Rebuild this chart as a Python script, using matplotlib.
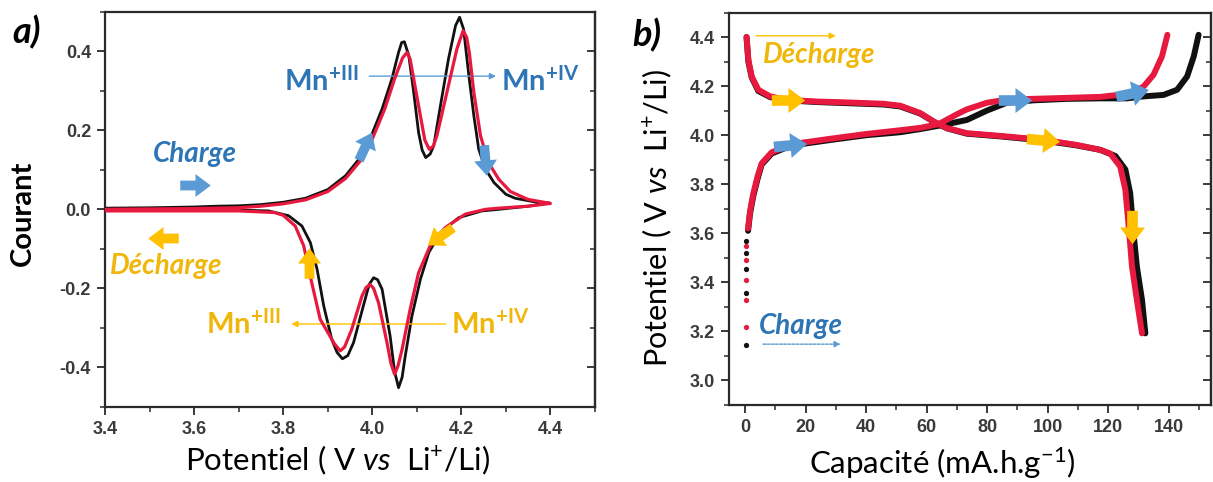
import numpy as np
import matplotlib
matplotlib.use("Agg")
import matplotlib.pyplot as plt
from matplotlib.path import Path
from matplotlib.markers import MarkerStyle
from matplotlib.transforms import Affine2D

# ---------------- data : a) cyclic voltammetry ----------------
cv_black_anodic_x = [3.40, 3.50, 3.60, 3.65, 3.70, 3.75, 3.80, 3.85, 3.90, 3.94, 3.97, 3.995,
                     4.022, 4.044, 4.059, 4.066, 4.072, 4.082, 4.093, 4.104, 4.112, 4.12, 4.13,
                     4.138, 4.153, 4.171, 4.187, 4.196, 4.205, 4.216, 4.228, 4.239, 4.254, 4.273,
                     4.30, 4.321, 4.364, 4.398]
cv_black_anodic_y = [0.003, 0.004, 0.006, 0.008, 0.009, 0.012, 0.018, 0.028, 0.050, 0.085, 0.127, 0.178,
                     0.254, 0.330, 0.397, 0.422, 0.424, 0.389, 0.296, 0.194, 0.150, 0.131, 0.140,
                     0.161, 0.262, 0.380, 0.465, 0.486, 0.456, 0.346, 0.237, 0.152, 0.102, 0.068,
                     0.038, 0.028, 0.019, 0.016]
cv_black_cathodic_x = [4.398, 4.35, 4.30, 4.284, 4.246, 4.194, 4.153, 4.127, 4.108, 4.089, 4.074,
                       4.067, 4.059, 4.050, 4.040, 4.022, 4.012, 4.003, 3.993, 3.98, 3.958, 3.945,
                       3.933, 3.921, 3.909, 3.891, 3.876, 3.861, 3.842, 3.812, 3.767, 3.70, 3.60, 3.40]
cv_black_cathodic_y = [0.016, 0.008, 0.002, 0.000, -0.004, -0.021, -0.059, -0.109, -0.177, -0.270, -0.371,
                       -0.425, -0.451, -0.410, -0.320, -0.202, -0.178, -0.173, -0.190, -0.244, -0.337, -0.370,
                       -0.378, -0.362, -0.329, -0.244, -0.151, -0.084, -0.042, -0.016, -0.004, -0.002, -0.002, -0.002]

cv_red_anodic_x = [3.40, 3.60, 3.70, 3.75, 3.80, 3.85, 3.90, 3.94, 3.975, 4.00, 4.028, 4.05,
                   4.068, 4.078, 4.085, 4.093, 4.108, 4.118, 4.128, 4.137, 4.145, 4.171, 4.19,
                   4.204, 4.212, 4.218, 4.228, 4.243, 4.261, 4.284, 4.31, 4.35, 4.40]
cv_red_anodic_y = [0.000, 0.002, 0.004, 0.008, 0.014, 0.024, 0.045, 0.078, 0.125, 0.178, 0.254, 0.330,
                   0.383, 0.397, 0.380, 0.330, 0.237, 0.175, 0.152, 0.160, 0.186, 0.313, 0.406,
                   0.452, 0.435, 0.395, 0.296, 0.186, 0.118, 0.076, 0.045, 0.025, 0.015]
cv_red_cathodic_x = [4.40, 4.35, 4.284, 4.254, 4.209, 4.164, 4.13, 4.104, 4.085, 4.067, 4.058,
                     4.050, 4.042, 4.033, 4.014, 4.003, 3.995, 3.986, 3.977, 3.954, 3.938, 3.928,
                     3.915, 3.883, 3.864, 3.846, 3.827, 3.80, 3.78, 3.70, 3.40]
cv_red_cathodic_y = [0.015, 0.008, 0.003, 0.000, -0.012, -0.046, -0.092, -0.160, -0.253, -0.354, -0.395,
                     -0.417, -0.390, -0.337, -0.236, -0.200, -0.190, -0.198, -0.219, -0.303, -0.348, -0.358,
                     -0.340, -0.278, -0.185, -0.092, -0.042, -0.015, -0.008, -0.004, -0.004]

cv_xticks = [3.4, 3.6, 3.8, 4.0, 4.2, 4.4]
cv_xticklabels = ["3.4", "3.6", "3.8", "4.0", "4.2", "4.4"]
cv_yticks = [-0.4, -0.2, 0.0, 0.2, 0.4]
cv_yticklabels = ["-0.4", "-0.2", "0.0", "0.2", "0.4"]

# ---------------- data : b) galvanostatic curves ----------------
charge_black_x = [1.0, 1.65, 2.7, 4.1, 5.5, 8.8, 13.8, 18.2, 29.2, 40.2, 51.3, 58.0, 65.6, 73.3,
                  79.9, 86.5, 95.3, 106.4, 117.4, 126.2, 131.7, 138.3, 142.8, 146.1, 148.3, 149.9]
charge_black_y = [3.61, 3.68, 3.75, 3.82, 3.88, 3.925, 3.95, 3.963, 3.982, 4.000, 4.012, 4.025, 4.042, 4.062,
                  4.100, 4.132, 4.142, 4.148, 4.150, 4.150, 4.158, 4.164, 4.185, 4.239, 4.321, 4.409]
charge_red_x = [1.0, 1.65, 2.7, 4.1, 5.5, 8.8, 13.8, 18.2, 29.2, 40.2, 51.3, 58.0, 64.0, 70.0, 73.3,
                79.9, 86.5, 95.3, 106.4, 117.4, 124.0, 127.3, 131.7, 135.0, 137.8, 139.6]
charge_red_y = [3.62, 3.69, 3.76, 3.83, 3.885, 3.93, 3.955, 3.968, 3.987, 4.005, 4.020, 4.030, 4.045, 4.085, 4.105,
                4.132, 4.145, 4.148, 4.152, 4.156, 4.165, 4.171, 4.198, 4.246, 4.321, 4.409]
discharge_black_x = [0.5, 1.1, 2.2, 4.4, 8.3, 13.8, 23.7, 34.7, 45.7, 51.3, 57.9, 62.3, 66.7, 73.3,
                     84.3, 98.6, 109.7, 117.4, 122.4, 125.7, 127.3, 128.4, 129.5, 131.2, 132.3]
discharge_black_y = [4.40, 4.30, 4.235, 4.18, 4.155, 4.142, 4.135, 4.130, 4.125, 4.117, 4.088, 4.055, 4.028, 4.006,
                     3.995, 3.978, 3.958, 3.940, 3.915, 3.860, 3.763, 3.600, 3.464, 3.328, 3.192]
discharge_red_x = [0.5, 1.1, 2.2, 4.4, 8.3, 13.8, 23.7, 34.7, 45.7, 51.3, 53.5, 57.9, 62.3, 66.7, 73.3,
                   84.3, 98.6, 109.7, 117.4, 120.7, 124.0, 125.7, 126.8, 127.9, 129.5, 131.2]
discharge_red_y = [4.40, 4.307, 4.239, 4.185, 4.158, 4.144, 4.137, 4.133, 4.128, 4.120, 4.110, 4.090, 4.056, 4.029, 4.008,
                   3.997, 3.981, 3.960, 3.940, 3.925, 3.872, 3.777, 3.627, 3.464, 3.328, 3.192]
start_dots_black_y = [3.144, 3.355, 3.455, 3.52, 3.57]
start_dots_red_y = [3.22, 3.33, 3.41, 3.49, 3.55]

gc_xticks = [0, 20, 40, 60, 80, 100, 120, 140]
gc_xticklabels = ["0", "20", "40", "60", "80", "100", "120", "140"]
gc_yticks = [3.0, 3.2, 3.4, 3.6, 3.8, 4.0, 4.2, 4.4]
gc_yticklabels = ["3.0", "3.2", "3.4", "3.6", "3.8", "4.0", "4.2", "4.4"]

# ---------------- style ----------------
plt.rcParams["mathtext.fontset"] = "custom"
plt.rcParams["mathtext.rm"] = "Lato"
plt.rcParams["mathtext.it"] = "Lato:italic"
plt.rcParams["mathtext.bf"] = "Lato:bold"
plt.rcParams["font.family"] = ["Lato", "DejaVu Sans"]

RED = "#E8193F"
BLACK = "#111111"
BLUE_TXT = "#2E75B6"
BLUE_ARR = "#5B9BD5"
YEL_TXT = "#F0B70A"
YEL_ARR = "#FFC000"
SPINE = "#2a2a2a"

W, H = 1213, 482
fig = plt.figure(figsize=(W / 100, H / 100), dpi=100)
axA = fig.add_axes([105 / W, 1 - 407 / H, 490 / W, (407 - 11.7) / H])
axB = fig.add_axes([729 / W, 1 - 405 / H, (1211 - 729) / W, (405 - 12.5) / H])

ARROW_PATH = Path([(-1, -0.32), (0.0, -0.32), (0.0, -0.75), (1, 0), (0.0, 0.75),
                   (0.0, 0.32), (-1, 0.32), (-1, -0.32)],
                  [Path.MOVETO] + [Path.LINETO] * 6 + [Path.CLOSEPOLY])


def block_arrow(ax, x, y, angle, color, size=18):
    m = MarkerStyle(ARROW_PATH, transform=Affine2D().rotate_deg(angle))
    ax.plot([x], [y], marker=m, ms=size, color=color, mec="none", ls="none", zorder=6)


def style_axes(ax, xt, xtl, yt, ytl, xminor, yminor):
    ax.set_xticks(xt)
    ax.set_xticklabels(xtl)
    ax.set_yticks(yt)
    ax.set_yticklabels(ytl)
    ax.set_xticks(xminor, minor=True)
    ax.set_yticks(yminor, minor=True)
    for s in ax.spines.values():
        s.set_linewidth(1.6)
        s.set_color(SPINE)
    ax.tick_params(which="major", direction="out", length=6, width=1.3, color=SPINE, pad=4,
                   labelsize=13, labelcolor="#3a3a3a")
    ax.tick_params(which="minor", direction="out", length=3.5, width=1.1, color=SPINE)
    for lab in ax.get_xticklabels() + ax.get_yticklabels():
        lab.set_fontfamily("Liberation Sans")
        lab.set_fontweight("bold")
    sec = ax.secondary_yaxis("right")
    sec.set_yticks(yt)
    sec.set_yticks(yminor, minor=True)
    sec.tick_params(which="major", direction="in", length=6, width=1.3, color=SPINE, labelright=False)
    sec.tick_params(which="minor", direction="in", length=3.5, width=1.1, color=SPINE)
    sec.spines["right"].set_linewidth(1.6)
    sec.spines["right"].set_color(SPINE)


# ---------------- panel a ----------------
axA.plot(cv_black_anodic_x + cv_black_cathodic_x, cv_black_anodic_y + cv_black_cathodic_y,
         color=BLACK, lw=2.0, solid_joinstyle="round", zorder=3)
axA.plot(cv_red_anodic_x + cv_red_cathodic_x, cv_red_anodic_y + cv_red_cathodic_y,
         color=RED, lw=2.3, solid_joinstyle="round", zorder=4)
axA.set_xlim(3.4, 4.5)
axA.set_ylim(-0.5, 0.5)
style_axes(axA, cv_xticks, cv_xticklabels, cv_yticks, cv_yticklabels,
           np.arange(3.4, 4.51, 0.1), np.arange(-0.5, 0.51, 0.1))

axA.text(3.601, 0.14, "Charge", color=BLUE_TXT, fontsize=20, fontstyle="italic",
         fontweight="bold", ha="center", va="center")
axA.text(3.538, -0.143, "Décharge", color=YEL_TXT, fontsize=20, fontstyle="italic",
         fontweight="bold", ha="center", va="center")
block_arrow(axA, 3.603, 0.062, 0, BLUE_ARR, 22)
block_arrow(axA, 3.531, -0.072, 180, YEL_ARR, 22)
block_arrow(axA, 3.984, 0.161, 65, BLUE_ARR, 22)
block_arrow(axA, 4.254, 0.125, -85, BLUE_ARR, 22)
block_arrow(axA, 3.857, -0.135, 90, YEL_ARR, 22)
block_arrow(axA, 4.153, -0.067, 215, YEL_ARR, 22)

axA.text(3.801, 0.325, r"Mn$^{\mathbf{+III}}$", color=BLUE_TXT, fontsize=21,
         fontweight="bold", ha="left", va="center")
axA.text(4.29, 0.325, r"Mn$^{\mathbf{+IV}}$", color=BLUE_TXT, fontsize=21,
         fontweight="bold", ha="left", va="center")
axA.annotate("", xy=(4.284, 0.337), xytext=(3.987, 0.337),
             arrowprops=dict(arrowstyle="-|>", color=BLUE_ARR, lw=1.0, mutation_scale=9))
axA.text(3.626, -0.29, r"Mn$^{\mathbf{+III}}$", color=YEL_TXT, fontsize=21,
         fontweight="bold", ha="left", va="center")
axA.text(4.176, -0.29, r"Mn$^{\mathbf{+IV}}$", color=YEL_TXT, fontsize=21,
         fontweight="bold", ha="left", va="center")
axA.annotate("", xy=(3.812, -0.29), xytext=(4.171, -0.29),
             arrowprops=dict(arrowstyle="-|>", color=YEL_ARR, lw=1.0, mutation_scale=9))

# ---------------- panel b ----------------
axB.plot(discharge_black_x, discharge_black_y, color=BLACK, lw=4.3, solid_capstyle="round", zorder=3)
axB.plot(charge_black_x, charge_black_y, color=BLACK, lw=4.3, solid_capstyle="round", zorder=3)
axB.plot(discharge_red_x, discharge_red_y, color=RED, lw=4.3, solid_capstyle="round", zorder=4)
axB.plot(charge_red_x, charge_red_y, color=RED, lw=4.3, solid_capstyle="round", zorder=4)
axB.plot([0.4] * len(start_dots_black_y), start_dots_black_y, "o", color=BLACK, ms=3.8, mec="none", zorder=3)
axB.plot([0.4] * len(start_dots_red_y), start_dots_red_y, "o", color=RED, ms=3.8, mec="none", zorder=4)
axB.set_xlim(-5.3, 154)
axB.set_ylim(2.9, 4.5)
style_axes(axB, gc_xticks, gc_xticklabels, gc_yticks, gc_yticklabels,
           np.arange(0, 151, 10), np.arange(2.9, 4.51, 0.1))

block_arrow(axB, 14.3, 4.144, 0, YEL_ARR, 24)
block_arrow(axB, 14.9, 3.96, 5, BLUE_ARR, 24)
block_arrow(axB, 89.3, 4.144, 0, BLUE_ARR, 24)
block_arrow(axB, 98.6, 3.98, -5, YEL_ARR, 24)
block_arrow(axB, 127.9, 4.17, 12, BLUE_ARR, 24)
block_arrow(axB, 127.9, 3.627, -90, YEL_ARR, 24)

axB.text(24.5, 4.328, "Décharge", color=YEL_TXT, fontsize=20, fontstyle="italic",
         fontweight="bold", ha="center", va="center")
axB.annotate("", xy=(30.9, 4.405), xytext=(2.7, 4.405),
             arrowprops=dict(arrowstyle="-|>", color=YEL_ARR, lw=1.0, mutation_scale=9))
axB.text(18.5, 3.222, "Charge", color=BLUE_TXT, fontsize=20, fontstyle="italic",
         fontweight="bold", ha="center", va="center")
axB.annotate("", xy=(32.5, 3.148), xytext=(5.0, 3.148),
             arrowprops=dict(arrowstyle="-|>", color=BLUE_ARR, lw=1.0, ls=(0, (2, 1)),
                             mutation_scale=9))

# ---------------- labels ----------------
fig.text(27 / W, 1 - 32 / H, "a)", fontsize=26, fontweight="bold", fontstyle="italic",
         ha="center", va="center")
fig.text(647 / W, 1 - 35 / H, "b)", fontsize=26, fontweight="bold", fontstyle="italic",
         ha="center", va="center")
fig.text(23 / W, 1 - 213 / H, "Courant", rotation=90, fontsize=21, fontweight="bold",
         ha="center", va="center")
fig.text(338 / W, 1 - 460 / H, r"Potentiel ( V $\mathit{vs}$  Li$^{+}$/Li)", fontsize=22.5,
         ha="center", va="center")
fig.text(657 / W, 1 - 218 / H, r"Potentiel ( V $\mathit{vs}$  Li$^{+}$/Li)", rotation=90,
         fontsize=22, ha="center", va="center")
fig.text(942 / W, 1 - 463 / H, r"Capacité (mA.h.g$^{\mathrm{-1}}$)", fontsize=22.5,
         ha="center", va="center")

fig.savefig("out.png", dpi=100)
